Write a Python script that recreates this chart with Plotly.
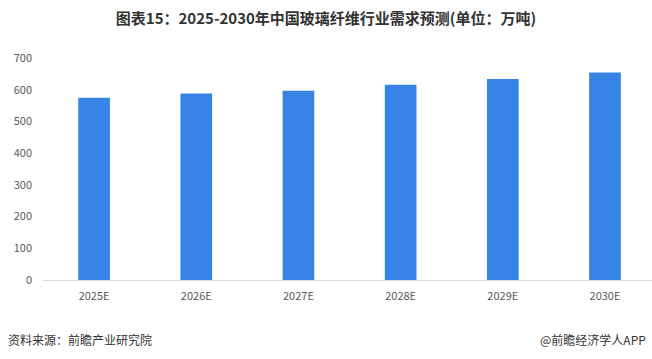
import plotly.graph_objects as go

categories = ["2025E", "2026E", "2027E", "2028E", "2029E", "2030E"]
values = [575, 588, 597, 616, 634, 654]
y_ticks = [0, 100, 200, 300, 400, 500, 600, 700]

fig = go.Figure()
fig.add_trace(go.Bar(
    x=categories, y=values,
    marker=dict(color="#3784E6", line=dict(width=0)),
    width=0.31,
))

fig.update_layout(
    width=652, height=359,
    margin=dict(l=43, r=0, t=58, b=79),
    plot_bgcolor="white", paper_bgcolor="white",
    showlegend=False,
    font=dict(family="Noto Sans CJK SC, Liberation Sans, sans-serif", color="#595959", size=11),
    title=dict(
        text="<b>图表15：2025-2030年中国玻璃纤维行业需求预测(单位：万吨)</b>",
        x=0.5, xanchor="center", y=0.948, yanchor="middle",
        font=dict(size=15, color="#333333", family="Noto Sans CJK SC, sans-serif"),
    ),
    xaxis=dict(
        type="category", range=[-0.5, 5.46],
        showline=True, linecolor="#D9D9D9", linewidth=1,
        showgrid=False, ticks="", tickfont=dict(size=11, color="#595959"),
        ticklabelstandoff=6,
    ),
    yaxis=dict(
        range=[0, 700], tickvals=y_ticks, showgrid=False, zeroline=False,
        showline=False, ticks="", tickfont=dict(size=11, color="#595959"),
        ticklabelstandoff=10,
    ),
    annotations=[
        dict(text="资料来源：前瞻产业研究院", xref="paper", yref="paper",
             x=-43/609, y=-(340-280.5)/222, xanchor="left", yanchor="middle",
             xshift=6,
             showarrow=False, font=dict(size=12, color="#333333")),
        dict(text="@前瞻经济学人APP", xref="paper", yref="paper",
             x=1.0, y=-(340-280.5)/222, xanchor="right", yanchor="middle",
             xshift=-4,
             showarrow=False, font=dict(size=12, color="#333333")),
    ],
)

fig.write_html("out.html", config={"displayModeBar": False},
               post_script="document.body.style.margin='0px';document.body.style.overflow='hidden';")
